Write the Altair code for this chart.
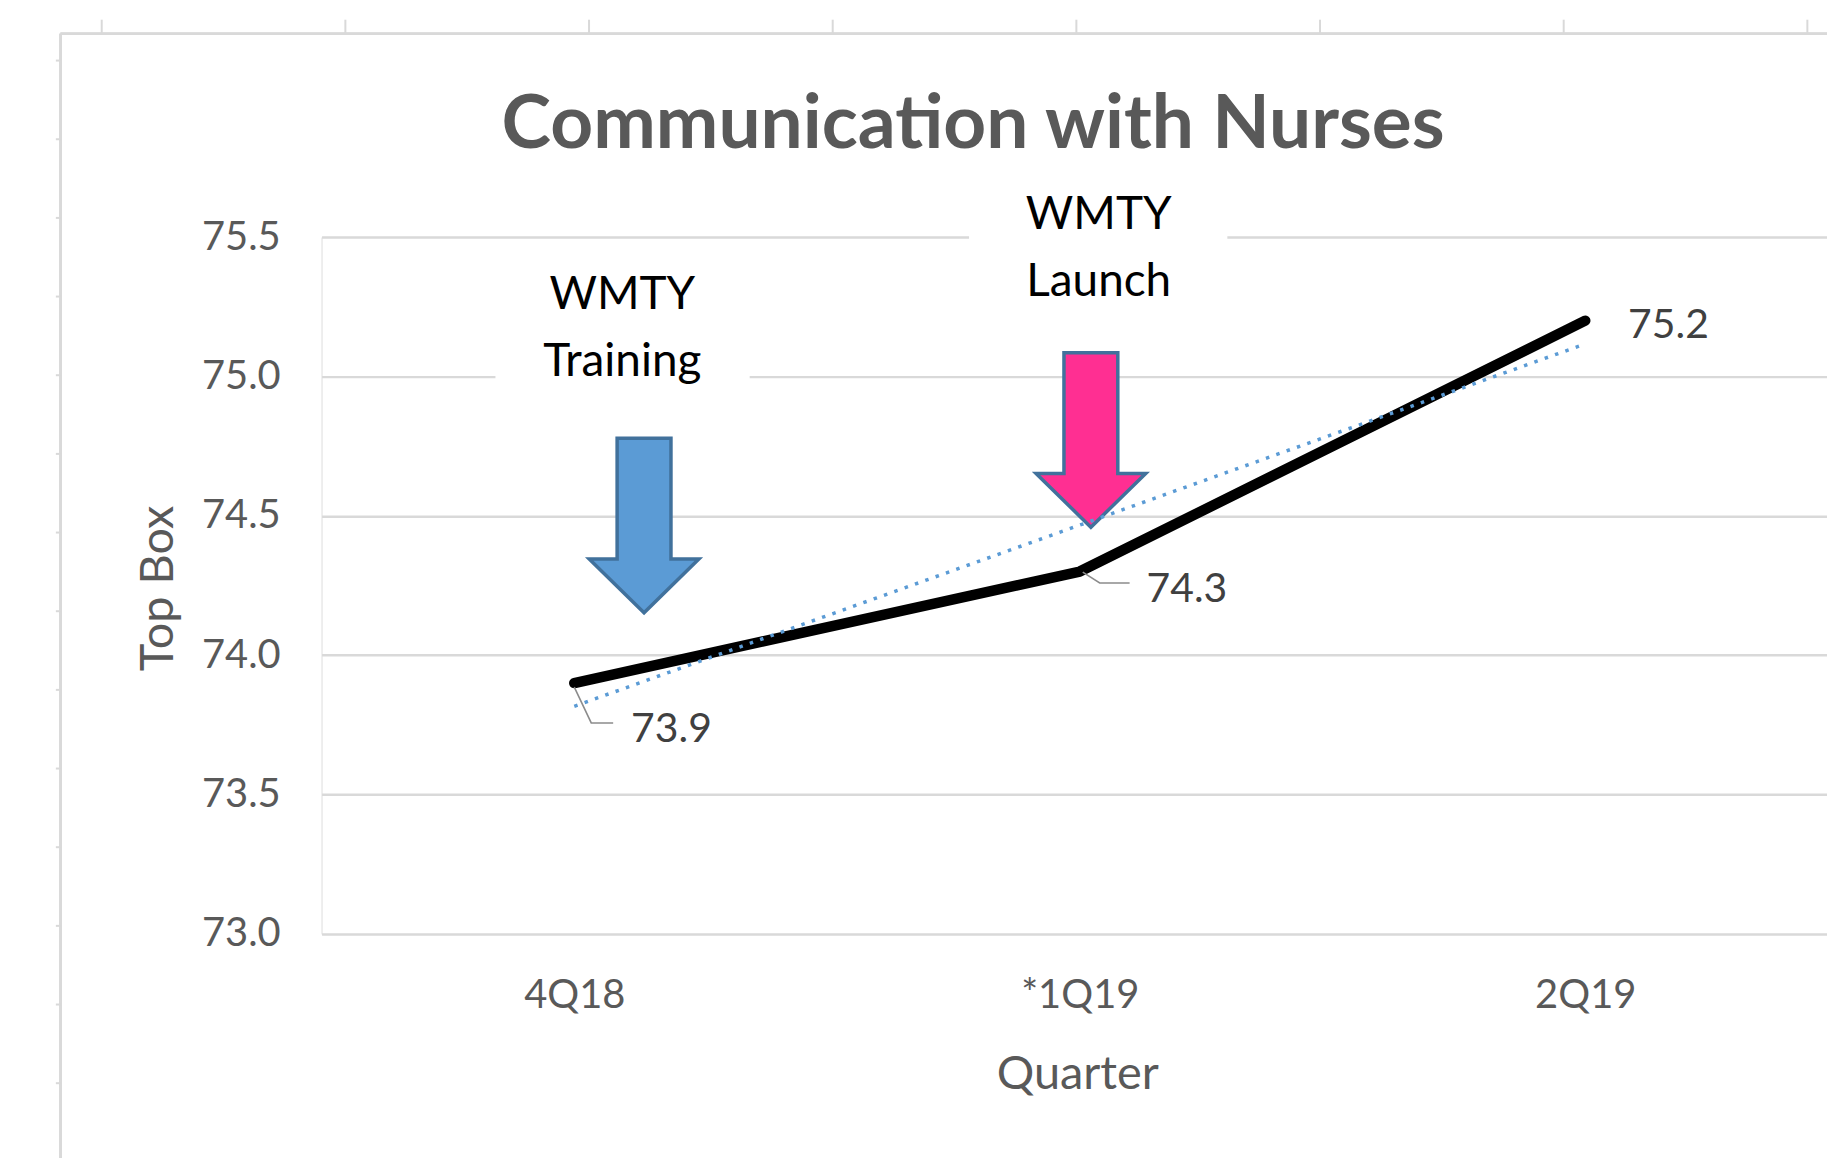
import json
import altair as alt
import pandas as pd

# ---------------- data ----------------
quarters = ["4Q18", "*1Q19", "2Q19"]
scores = [73.9, 74.3, 75.2]
y_ticks = [73.0, 73.5, 74.0, 74.5, 75.0, 75.5]

# annotations, in data units (x = quarter index, y = Top Box)
note_names = ["training", "launch"]
note_text = ["WMTY\nTraining", "WMTY\nLaunch"]
note_x = [0.095, 1.0375]
note_y = [75.371, 75.656]
box_x = [-0.156, 0.781]
box_x2 = [0.347, 1.292]
box_y = [75.432, 75.772]
box_y2 = [74.913, 75.20]
arrow_x = [0.138, 1.022]
arrow_y = [74.152, 74.459]

# ---------------- layout constants ----------------
PAD_L, PAD_T, PAD_B = 314.5, 228, 223
UNIT = 507          # px per quarter
W = 1510
H = 699
XMAX = -0.5 + W / UNIT
FONT = "Lato"
GRAY = "#595959"

df = pd.DataFrame({"idx": list(range(len(quarters))), "quarter": quarters, "score": scores})
notes = pd.DataFrame({"name": note_names, "text": note_text, "ax": note_x, "ay": note_y})
boxes = pd.DataFrame({"name": note_names, "bx": box_x, "bx2": box_x2, "by": box_y, "by2": box_y2})
arrows = pd.DataFrame({"name": note_names, "ax": arrow_x, "ay": arrow_y})

xscale = alt.Scale(domain=[-0.5, XMAX], nice=False, zero=False)
yscale = alt.Scale(domain=[73.0, 75.5], nice=False, zero=False)

label_expr = json.dumps(quarters) + "[datum.value]"

x_axis = alt.Axis(values=[0, 1, 2], labelExpr=label_expr, title="Quarter", grid=False,
                  domain=False, ticks=False, tickSize=0, labelPadding=42,
                  labelFont=FONT, labelFontSize=40, labelColor=GRAY,
                  titleFont=FONT, titleFontSize=47, titleFontWeight="normal", titleColor=GRAY,
                  titleX=758, titleY=155, titleBaseline="alphabetic", titleAnchor="middle")
y_axis = alt.Axis(values=y_ticks, format=".1f", title="Top Box", grid=True,
                  gridColor="#d9d9d9", gridWidth=2.5, domain=False, ticks=False, tickSize=0,
                  labelPadding=41.5, labelFont=FONT, labelFontSize=40, labelColor=GRAY,
                  titleFont=FONT, titleFontSize=47, titleFontWeight="normal", titleColor=GRAY,
                  titleX=-149.5, titleY=352, titleBaseline="alphabetic", titleAngle=270)


def X(field):
    return alt.X(field, scale=xscale, axis=x_axis)


def Y(field):
    return alt.Y(field, scale=yscale, axis=y_axis)


base = alt.Chart(df)

line = base.mark_line(color="black", strokeWidth=10.5, strokeCap="round", strokeJoin="round").encode(
    x=X("idx:Q"), y=Y("score:Q"))

trend = base.transform_regression("idx", "score").mark_line(
    color="#5b9bd5", strokeWidth=3.5, strokeDash=[3.5, 7.5]).encode(
    x=X("idx:Q"), y=Y("score:Q"))

# white boxes behind annotation text (hide gridlines)
box_layer = alt.Chart(boxes).mark_rect(color="white").encode(
    x=X("bx:Q"), x2="bx2:Q", y=Y("by:Q"), y2="by2:Q")

note_layer = alt.Chart(notes).mark_text(
    align="center", baseline="top", lineBreak="\n", lineHeight=67,
    font=FONT, fontSize=46, color="black").encode(
    x=X("ax:Q"), y=Y("ay:Q"), text="text:N")

ARROW = "M0,0 L-1.1,-1.08 L-0.54,-1.08 L-0.54,-3.5 L0.54,-3.5 L0.54,-1.08 L1.1,-1.08 Z"
arrow_layer = alt.Chart(arrows).mark_point(
    shape=ARROW, size=10000, filled=True, opacity=1, stroke="#41719c", strokeWidth=3.5,
    strokeJoin="miter").encode(
    x=X("ax:Q"), y=Y("ay:Q"),
    fill=alt.Fill("name:N", scale=alt.Scale(domain=note_names, range=["#5b9bd5", "#ff2f92"]), legend=None))

# data labels with leader lines
label_style = {
    "4Q18": dict(dx=57, dy=47, leader="M0,0.08 L0.34,0.8 L0.78,0.8"),
    "*1Q19": dict(dx=67, dy=19, leader="M0.06,0.01 L0.4,0.23 L1.0,0.23"),
    "2Q19": dict(dx=43, dy=5, leader=None),
}
label_layers = []
for q, st in label_style.items():
    flt = alt.datum.quarter == q
    label_layers.append(
        base.transform_filter(flt).mark_text(
            align="left", baseline="middle", dx=st["dx"], dy=st["dy"],
            font=FONT, fontSize=41, color="#404040").encode(
            x=X("idx:Q"), y=Y("score:Q"),
            text=alt.Text("score:Q", format=".1f")))
    if st["leader"]:
        label_layers.append(
            base.transform_filter(flt).mark_point(
                shape=st["leader"], size=10000, filled=False, opacity=1,
                color="#8c8c8c", strokeWidth=1.6).encode(
                x=X("idx:Q"), y=Y("score:Q")))

# chart-area frame and worksheet gridlines peeking around it (pixel decoration)
FRAME_X = -261.8
FRAME_Y = -204
frame_color = "#d9d9d9"
frame_left = alt.Chart(df).mark_rule(color=frame_color, strokeWidth=2.5).encode(
    x=alt.value(FRAME_X), y=alt.value(FRAME_Y), y2=alt.value(930))
frame_top = alt.Chart(df).mark_rule(color=frame_color, strokeWidth=2.5).encode(
    x=alt.value(FRAME_X), x2=alt.value(W + 10), y=alt.value(FRAME_Y))
top_ticks = pd.DataFrame({"px": [-220.5 + k * 244.4 for k in range(8)]})
top_tick_layer = alt.Chart(top_ticks).mark_rule(color=frame_color, strokeWidth=2).encode(
    x=alt.X("px:Q", scale=None, axis=None), y=alt.value(-218), y2=alt.value(FRAME_Y))
left_ticks = pd.DataFrame({"py": [-177 + k * 78.9 for k in range(14)]})
left_tick_layer = alt.Chart(left_ticks).mark_rule(color=frame_color, strokeWidth=2).encode(
    y=alt.Y("py:Q", scale=None, axis=None), x=alt.value(-266.5), x2=alt.value(FRAME_X))

chart = alt.layer(
    line, frame_left, frame_top, top_tick_layer, left_tick_layer,
    box_layer, arrow_layer, trend, note_layer, *label_layers
).properties(
    width=W, height=H,
    title=alt.TitleParams("Communication with Nurses", font=FONT, fontSize=75, fontWeight="bold",
                          color=GRAY, anchor="middle", baseline="alphabetic", offset=0,
                          dx=-101.5, dy=205),
    autosize=alt.AutoSizeParams(type="none"),
    padding={"left": PAD_L, "top": PAD_T, "right": 0, "bottom": PAD_B},
).configure_view(strokeWidth=0, stroke="transparent").configure(background="white")

chart.save("out.html", embed_options={"renderer": "svg", "actions": False})
